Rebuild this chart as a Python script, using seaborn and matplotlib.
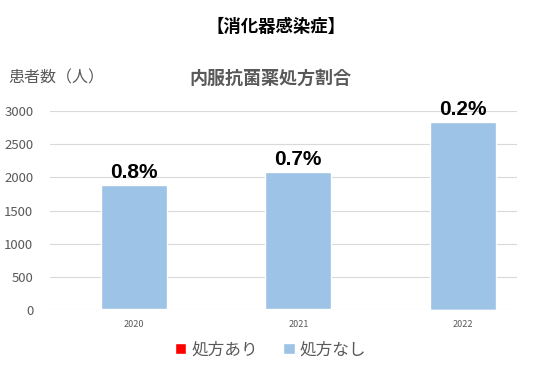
import matplotlib
matplotlib.use("Agg")
import matplotlib.pyplot as plt
import pandas as pd
import seaborn as sns
from matplotlib.patches import Patch

YEARS = ["2020", "2021", "2022"]
WITH_RX = [15, 15, 6]          # 処方あり
WITHOUT_RX = [1867, 2065, 2828]  # 処方なし
RATE_LABELS = ["0.8%", "0.7%", "0.2%"]
Y_TICKS = [0, 500, 1000, 1500, 2000, 2500, 3000]

BLUE = "#9DC3E6"
RED = "#FF0000"
GRAY = "#595959"


def main() -> None:
    sns.set_style("white")
    plt.rcParams["font.family"] = ["Noto Sans CJK JP", "DejaVu Sans"]

    df = pd.DataFrame({"year": YEARS, "with_rx": WITH_RX, "without_rx": WITHOUT_RX})
    df["total"] = df["with_rx"] + df["without_rx"]

    fig = plt.figure(figsize=(5.52, 3.73), dpi=100)
    ax = fig.add_axes([0.0906, 0.169, 0.846, 0.533])

    sns.barplot(data=df, x="year", y="total", color=BLUE, width=0.4,
                saturation=1, ax=ax, zorder=2)
    sns.barplot(data=df, x="year", y="with_rx", color=RED, width=0.4,
                saturation=1, ax=ax, zorder=3)

    for i, (total, label) in enumerate(zip(df["total"], RATE_LABELS)):
        ax.text(i, total + 50, label, ha="center", va="bottom",
                fontsize=15, fontweight="bold", color="black",
                family="Liberation Sans")

    ax.set_ylim(0, 3000)
    ax.set_xlim(-0.51, 2.33)
    ax.set_yticks(Y_TICKS)
    ax.yaxis.grid(True, color="#D9D9D9", linewidth=0.8, zorder=0)
    ax.set_axisbelow(True)
    for side in ["top", "right", "left", "bottom"]:
        ax.spines[side].set_visible(False)
    ax.tick_params(axis="y", labelsize=9.5, colors=GRAY, length=0, pad=12)
    ax.tick_params(axis="x", labelsize=6.5, colors=GRAY, length=0, pad=7)
    ax.set_xlabel("")
    ax.set_ylabel("")

    fig.text(0.5, 0.928, "【消化器感染症】", ha="center", va="center",
             fontsize=12.5, fontweight="bold", color="black")
    fig.text(0.49, 0.79, "内服抗菌薬処方割合", ha="center", va="center",
             fontsize=13, fontweight="bold", color=GRAY)
    fig.text(0.015, 0.79, "患者数（人）", ha="left", va="center",
             fontsize=11.5, color=GRAY)

    handles = [Patch(facecolor=RED, label="処方あり"),
               Patch(facecolor=BLUE, label="処方なし")]
    fig.legend(handles=handles, loc="center", bbox_to_anchor=(0.49, 0.062),
               ncol=2, frameon=False, fontsize=12, labelcolor=GRAY,
               handlelength=0.7, handleheight=0.7, handletextpad=0.3,
               columnspacing=1.5)

    fig.savefig("out.png", dpi=100)
    plt.close(fig)


if __name__ == "__main__":
    main()
